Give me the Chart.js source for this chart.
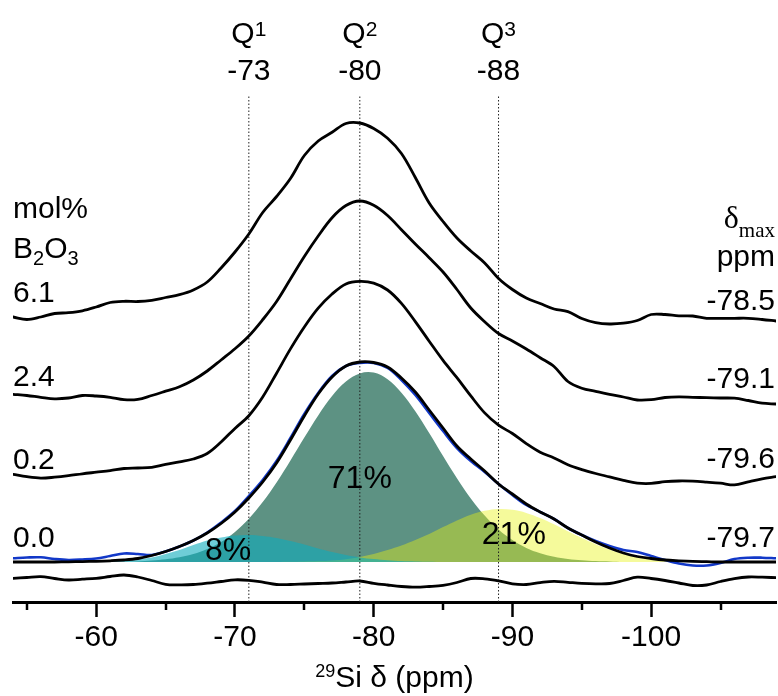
<!DOCTYPE html>
<html lang="en">
<head>
<meta charset="utf-8">
<title>29Si NMR spectra vs B2O3 content</title>
<script src="https://cdn.jsdelivr.net/npm/chart.js"></script>
<style>
  body { margin: 0; background: #fff; }
  #wrap { width: 778px; height: 696px; }
</style>
</head>
<body>
<div id="wrap"><canvas id="nmr" width="778" height="696"></canvas></div>
<script>
// chemical shift grid, 1 ppm steps
const ppm = [-54, -55, -56, -57, -58, -59, -60, -61, -62, -63, -64, -65, -66, -67, -68, -69, -70, -71, -72, -73,
  -74, -75, -76, -77, -78, -79, -80, -81, -82, -83, -84, -85, -86, -87, -88, -89, -90, -91, -92, -93,
  -94, -95, -96, -97, -98, -99, -100, -101, -102, -103, -104, -105, -106, -107, -108, -109];

// spectra intensities (arbitrary units, relative to each trace's baseline)
const spec61 = [0, -2.5, 0, 3.5, 4.3, 6.2, 10, 14.5, 15.7, 15.5, 16.7, 19.5, 22.3, 27, 35, 49, 65, 83, 104.5, 120.5,
  138.5, 161.5, 176, 184.7, 193.5, 194, 188.5, 178.7, 163.5, 139.5, 114, 95.5, 79, 66, 54, 38.5, 27.5, 19, 13.5, 8,
  5.4, -1.5, -5.7, -7, -6.2, -3.5, 2.5, 2.5, 1.2, 1, -1.3, -1.3, -1.3, -1.3, -2.5, -4];
const spec24 = [0.7, -0.5, -2.3, -3.8, -3, -0.5, -1, -2.3, -4.7, -4.4, -0.5, 3.8, 8.2, 15, 24, 35, 46.2, 59, 75.3, 93.5,
  116, 138.5, 159, 177.3, 189.5, 194, 189.7, 179.5, 165.3, 151, 137.3, 123, 105.5, 87, 73.3, 61.5, 54, 46, 37.3, 28.5,
  13.5, 6.8, 3.7, 0.7, -2, -5, -4.7, -2.5, -1.9, -2.3, -2.7, -3, -3.2, -5.5, -8.2, -9];
const spec02 = [0.7, -1.7, -3.1, -2.2, -0.7, 1.2, 2.8, 4.4, 6.5, 7, 7.7, 10.6, 13.1, 16, 21.5, 33, 46.6, 59.3, 78, 101.8,
  126.1, 148, 166.8, 181, 191.1, 193.6, 191.9, 185, 171.6, 153.4, 133.8, 114.6, 97.3, 79.1, 62.1, 49.8, 41.5, 31.4, 22.8, 17.1,
  10.2, 5.4, 1.5, -1.9, -5.3, -8.1, -8.4, -6.7, -6, -6.2, -7.1, -8.2, -9.9, -6.8, -3.9, -1.7];
const spec00Exp = [3.7, 4.5, 4.7, 3, 2, 2.5, 3.5, 6, 8.5, 8, 7, 10.5, 15.5, 21.5, 29.5, 39.5, 51, 66, 82, 101,
  124, 148, 169, 186, 196, 199, 199, 194, 182, 167, 149, 131, 114, 101, 90, 78, 67, 57, 50, 43,
  34, 27, 21, 16, 12, 10, 6, 2, -1.5, -3.5, -3.5, -1, 3, 4.3, 4.3, 3.7];
const spec00Fit = [0, 0, 0, 0, 0.2, 0.4, 0.7, 1.2, 2, 3.5, 6.5, 10.5, 15.5, 21.5, 29, 38.5, 50, 64, 80, 99,
  122, 146, 168, 185, 196, 200, 199.5, 195, 184, 170, 152, 134, 116, 103, 91, 78, 68, 58, 50, 43,
  34, 27, 20, 14, 9, 5.5, 3.5, 2, 1.2, 0.6, 0.3, 0, 0, 0, 0, 0];
const residual = [-0.3, 0.5, 1.3, -0.5, -2, -1.2, -0.3, 1.5, 3, 1, -2.5, -6.3, -6.8, -6.5, -5.2, -3.5, -1.8, -2.3, -4.2, -6.5,
  -6.5, -6, -5.5, -5, -4, -3, -5.3, -7, -8.5, -9.2, -8.5, -7.3, -4.5, -0.5, -0.8, -2.8, -5.8, -6.5, -4.6, -3.3,
  -4.3, -5.3, -5.8, -5.5, -2.5, 0.8, -0.5, -2.5, -5, -7.5, -7, -3.5, -0.6, 1, 0.8, 0.3];

// fitted Qn components of the 0.0 mol% spectrum
const q1 = [0, 0, 0, 0.2, 0.4, 0.7, 0.8, 1.3, 2.2, 3, 4.5, 8, 12, 17, 21.5, 24.5, 26.5, 27, 26, 24,
  21, 17.5, 13.5, 10, 7, 4.6, 3, 1.8, 1, 0.6, 0.3, 0, 0, 0, 0, 0, 0, 0, 0, 0,
  0, 0, 0, 0, 0, 0, 0, 0, 0, 0, 0, 0, 0, 0, 0, 0];
const q2 = [0, 0, 0, 0, 0, 0, 0, 0, 0, 0.4, 1.5, 2.7, 4.7, 7.9, 12.9, 20.1, 30.1, 43.2, 59.9, 79.5,
  101.5, 124.4, 146.6, 166, 180.5, 188.6, 189.4, 182.7, 169.3, 150.8, 129, 106, 83.8, 63.6, 46.4, 32.5, 21.9, 14.1, 8.8, 5.2,
  3, 1.7, 0.9, 0.5, 0, 0, 0, 0, 0, 0, 0, 0, 0, 0, 0, 0];
const q3 = [0, 0, 0, 0, 0, 0, 0, 0, 0, 0, 0, 0, 0, 0, 0, 0, 0, 0, 0, 0,
  0.2, 0.5, 0.9, 1.6, 2.7, 5, 8, 12, 16.5, 22, 28, 34.9, 41.6, 47.3, 51.2, 53, 52.2, 49.1, 44, 37.7,
  30.7, 23.9, 17.8, 12.6, 8.5, 5.5, 3.4, 2, 1.1, 0.6, 0.3, 0, 0, 0, 0, 0];
const qShares = ['8%', '71%', '21%'];

// Qn reference positions
const qSites = [
  { n: '1', line: -71, shift: '-73' },
  { n: '2', line: -79, shift: '-80' },
  { n: '3', line: -89, shift: '-88' }
];

const b2o3 = ['6.1', '2.4', '0.2', '0.0'];
const deltaMax = ['-78.5', '-79.1', '-79.6', '-79.7'];

const majorTicks = [-60, -70, -80, -90, -100];
const minorTicks = [-55, -65, -75, -85, -95, -105];

// vertical stacking of the traces (y axis units)
const Y_MIN = 0, Y_MAX = 507;
const off = { s61: 285, s24: 207, s02: 127, s00: 40, res: 24 };

const SANS = '"Liberation Sans", Arial, sans-serif';
const SERIF = '"Liberation Serif", "Times New Roman", serif';

const pts = (vals, o) => ppm.map((p, i) => ({ x: p, y: vals[i] + o }));

const line = (data, color, width) => ({
  data, borderColor: color, borderWidth: width, pointRadius: 0, fill: false,
  tension: 0.35, borderJoinStyle: 'round', borderCapStyle: 'round'
});
const band = (data, color) => ({
  data, borderWidth: 0, pointRadius: 0, backgroundColor: color,
  fill: { value: off.s00 }, tension: 0.35
});

// first dataset is drawn on top
const datasets = [
  line(pts(spec61, off.s61), '#000', 2.8),
  line(pts(spec24, off.s24), '#000', 2.8),
  line(pts(spec02, off.s02), '#000', 2.8),
  line(pts(spec00Fit, off.s00), '#000', 2.8),
  line(pts(spec00Exp, off.s00), '#1238c8', 2.6),
  line(pts(residual, off.res), '#000', 2.8)
];
qSites.forEach(q => {
  datasets.push({
    data: [{ x: q.line, y: Y_MIN }, { x: q.line, y: Y_MAX }],
    borderColor: '#222', borderWidth: 1, borderDash: [1.5, 2], pointRadius: 0, fill: false
  });
});
// components sit on the 0.0 baseline
datasets.push(band(pts(q1, off.s00), 'rgba(13,172,188,0.6)'));
datasets.push(band(pts(q3, off.s00), 'rgba(231,243,17,0.42)'));
datasets.push(band(pts(q2, off.s00), '#5d9283'));

function runs(ctx, parts, x, y, align) {
  let w = 0;
  parts.forEach(r => { ctx.font = r[1] + 'px ' + (r[3] || SANS); w += ctx.measureText(r[0]).width; });
  let cx = align === 'center' ? x - w / 2 : align === 'right' ? x - w : x;
  ctx.textAlign = 'left';
  ctx.textBaseline = 'alphabetic';
  parts.forEach(r => {
    ctx.font = r[1] + 'px ' + (r[3] || SANS);
    ctx.fillText(r[0], cx, y + r[2]);
    cx += ctx.measureText(r[0]).width;
  });
}

const labels = {
  id: 'labels',
  afterDraw(chart) {
    const { ctx, chartArea: a } = chart;
    const xs = chart.scales.x, ys = chart.scales.y;
    ctx.save();
    ctx.fillStyle = '#000';

    // minor ticks
    ctx.strokeStyle = '#000';
    ctx.lineWidth = 2.5;
    minorTicks.forEach(v => {
      const px = Math.round(xs.getPixelForValue(v));
      ctx.beginPath();
      ctx.moveTo(px, a.bottom);
      ctx.lineTo(px, a.bottom + 8);
      ctx.stroke();
    });

    // Qn headers
    qSites.forEach(q => {
      const px = xs.getPixelForValue(q.line);
      runs(ctx, [['Q', 30, 0], [q.n, 21, -7]], px, 43, 'center');
      runs(ctx, [[q.shift, 30, 0]], px, 80, 'center');
    });

    // left column: composition
    const lx = a.left;
    runs(ctx, [['mol%', 30, 0]], lx, ys.getPixelForValue(384), 'left');
    runs(ctx, [['B', 30, 0], ['2', 20, 7], ['O', 30, 0], ['3', 20, 7]], lx, ys.getPixelForValue(344), 'left');
    const leftRows = [300, 216, 133, 55];
    b2o3.forEach((t, i) => runs(ctx, [[t, 30, 0]], lx, ys.getPixelForValue(leftRows[i]), 'left'));

    // right column: peak maxima
    const rx = a.right - 1;
    runs(ctx, [['δ', 32, 0, SERIF], ['max', 21, 9, SERIF]], rx, ys.getPixelForValue(374), 'right');
    runs(ctx, [['ppm', 30, 0]], rx, ys.getPixelForValue(336), 'right');
    const rightRows = [292, 214, 134, 55];
    deltaMax.forEach((t, i) => runs(ctx, [[t, 30, 0]], rx, ys.getPixelForValue(rightRows[i]), 'right'));

    // component shares
    const shareAt = [[-69.5, 42], [-79, 114], [-90.1, 58]];
    qShares.forEach((t, i) => {
      runs(ctx, [[t, 32, 0]], xs.getPixelForValue(shareAt[i][0]), ys.getPixelForValue(shareAt[i][1]), 'center');
    });

    // axis title
    runs(ctx, [['29', 18, -10], ['Si δ (ppm)', 30, 0]], (a.left + a.right) / 2, 687, 'center');
    ctx.restore();
  }
};

new Chart(document.getElementById('nmr'), {
  type: 'line',
  data: { datasets },
  options: {
    responsive: false,
    animation: false,
    events: [],
    layout: { padding: { top: 95, left: 13, right: 2, bottom: 0 } },
    plugins: { legend: { display: false }, tooltip: { enabled: false } },
    scales: {
      x: {
        type: 'linear',
        min: -109, max: -54,
        reverse: true,
        afterBuildTicks: s => { s.ticks = majorTicks.map(v => ({ value: v })); },
        afterFit: s => { s.height = 94; },
        border: { display: true, color: '#000', width: 3 },
        grid: { drawOnChartArea: false, drawTicks: true, tickLength: 15, tickWidth: 2.5, tickColor: '#000' },
        ticks: {
          color: '#000', padding: 3, maxRotation: 0,
          font: { family: SANS, size: 30 },
          callback: v => String(v)
        }
      },
      y: { display: false, min: Y_MIN, max: Y_MAX }
    }
  },
  plugins: [labels]
});
</script>
</body>
</html>
